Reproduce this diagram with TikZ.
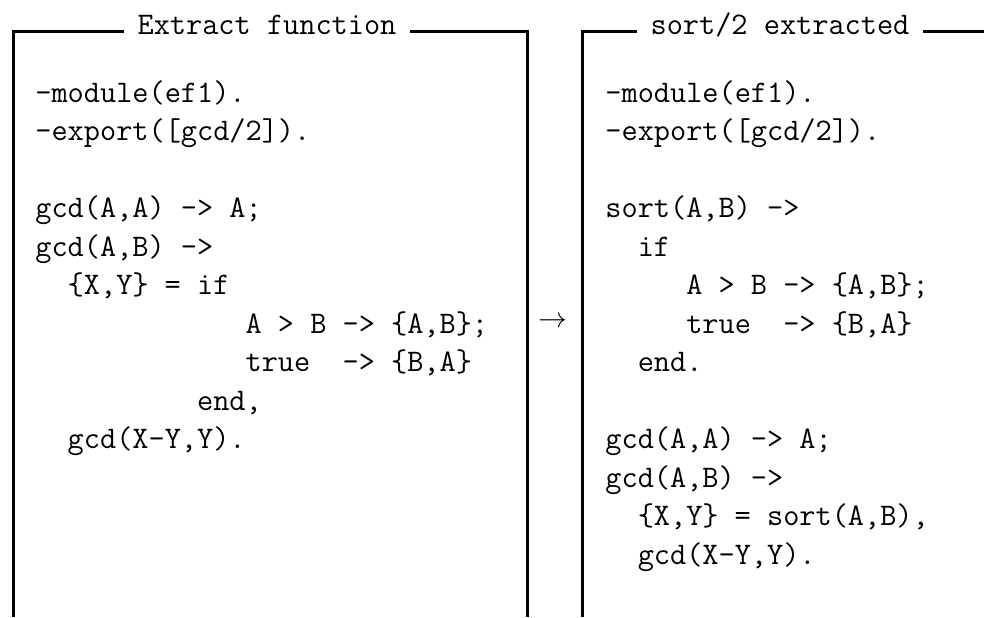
\documentclass[tikz,border=0pt]{standalone}
\usepackage{fontspec}
\usetikzlibrary{positioning}
\tikzset{>=latex}
\newcommand{\codefont}{\fontsize{15.7}{19}\selectfont\ttfamily}
\tikzstyle{frame}=[line width=1.5pt,line cap=butt]
\tikzstyle{title}=[fill=white,inner xsep=7pt,inner ysep=1pt,anchor=base,font=\codefont]
\tikzstyle{code}=[anchor=base west,inner sep=0pt,font=\codefont]

\begin{document}
\begin{tikzpicture}[x=0.5pt,y=-0.5pt]
  \def\dy{38.5}
  \useasboundingbox (0,0) rectangle (984,617);

  % FRAMES
  \draw[frame] (13,617) -- (13,31) -- (527,31) -- (527,617);
  \draw[frame] (582,617) -- (582,31) -- (984,31);
  \node[title] (tleft) at (267,34) {Extract function};
  \node[title] (tright) at (780,34) {sort/2 extracted};

  % CODE
  \foreach \txt [count=\i] in {{-module(ef1).},{-export([gcd/2]).},{},
      {gcd(A,A) -> A;},{gcd(A,B) ->},{~~\{X,Y\} = if},
      {~~~~~~~~~~~~~A > B -> \{A,B\};},{~~~~~~~~~~~~~true~~-> \{B,A\}},
      {~~~~~~~~~~end,},{~~gcd(X-Y,Y).}}{
    \node[code] (l\i) at (35,{102+(\i-1)*\dy}) {\txt};
  }
  \foreach \txt [count=\i] in {{-module(ef1).},{-export([gcd/2]).},{},
      {sort(A,B) ->},{~~if},{~~~~~A > B -> \{A,B\};},
      {~~~~~true~~-> \{B,A\}},{~~end.},{},
      {gcd(A,A) -> A;},{gcd(A,B) ->},{~~\{X,Y\} = sort(A,B),},
      {~~gcd(X-Y,Y).}}{
    \node[code] (r\i) at (605,{102+(\i-1)*\dy}) {\txt};
  }

  % ARROW
  \node[font=\fontsize{14}{16}\selectfont] (arr) at (553,322) {$\rightarrow$};
\end{tikzpicture}
\end{document}
